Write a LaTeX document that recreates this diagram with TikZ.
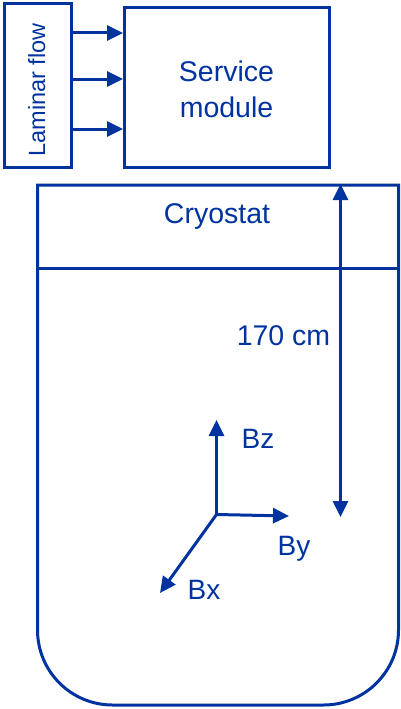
\documentclass[tikz,border=0pt]{standalone}
\usepackage{fontspec}
\setmainfont{Liberation Sans}
\usetikzlibrary{arrows.meta}
\definecolor{cryoblue}{RGB}{0,51,160}

\begin{document}
\begin{tikzpicture}[x=1pt,y=-1pt,line width=3pt,draw=cryoblue,text=cryoblue,
    >={Triangle[length=16pt,width=15pt]},
    lbl/.style={font=\fontsize{28}{34}\selectfont,anchor=base},
    bigtxt/.style={font=\fontsize{28.5}{36}\selectfont}]
  \useasboundingbox (0,0) rectangle (401,709);

  % laminar flow and service module
  \node[draw,minimum width=67pt,minimum height=163pt] (lam) at (38,85.5) {};
  \node[rotate=90,anchor=base,font=\fontsize{23.5}{28}\selectfont] (lamtxt) at (45,90) {Laminar flow};
  \node[draw,minimum width=205pt,minimum height=160pt] (svc) at (227,87.5) {};
  \node[bigtxt,align=center] (svctxt) at (226.5,89) {Service\\module};
  \foreach \y in {33,79,129}
    \draw[->] (lam.east |- 0,\y) -- (svc.west |- 0,\y);

  % cryostat
  \draw (37.5,185) -- (37.5,630) arc[start angle=180,end angle=90,radius=75]
    -- (323.5,705) arc[start angle=90,end angle=0,radius=75] -- (398.5,185) -- cycle;
  \draw (37.5,268) -- (398.5,268);
  \node[bigtxt,anchor=base] (cryo) at (217,223) {Cryostat};

  \coordinate (htop) at (340.5,184);
  \coordinate (hbot) at (340.5,517);
  \draw[<->] (htop) -- (hbot);
  \node[bigtxt,anchor=base] (len) at (283.5,345) {170 cm};

  % field axes
  \coordinate (org) at (216.5,514.5);
  \coordinate (zend) at (216.5,420);
  \coordinate (yend) at (289,516);
  \coordinate (xend) at (160,593);
  \draw[->] (org) -- (zend);
  \draw[->] (org) -- (yend);
  \draw[->] (org) -- (xend);
  \node[lbl] (bz) at (258,448) {Bz};
  \node[lbl] (by) at (294,555) {By};
  \node[lbl] (bx) at (204,599) {Bx};
\end{tikzpicture}
\end{document}
